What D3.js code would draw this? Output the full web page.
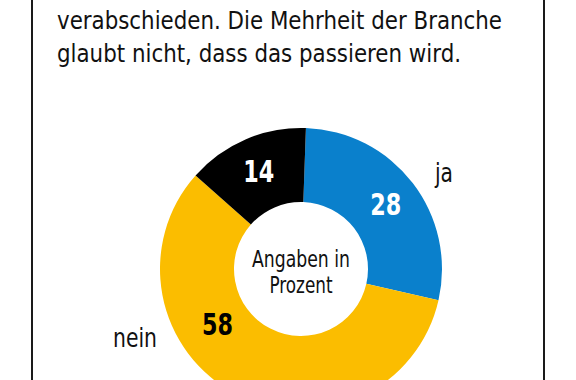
<!DOCTYPE html>
<html>
<head>
<meta charset="utf-8">
<script src="https://cdn.jsdelivr.net/npm/d3@7"></script>
<style>
  html, body { margin: 0; padding: 0; background: #fff; }
  svg { display: block; font-family: "Liberation Sans Narrow", "DejaVu Sans Condensed", "Roboto", sans-serif; }
</style>
</head>
<body>
<svg id="chart"></svg>
<script>
const categories = ["ja", "nein", "weiß nicht"];
const values = [28, 58, 14];
const colors = ["#0a80cc", "#fbbd00", "#000000"];
const valueColors = ["#ffffff", "#000000", "#ffffff"];
const introLines = [
  "verabschieden. Die Mehrheit der Branche",
  "glaubt nicht, dass das passieren wird.",
];
const centerLines = ["Angaben in", "Prozent"];

const width = 576;
const height = 380;

const svg = d3.select("#chart").attr("width", width).attr("height", height);

// frame lines left and right
svg
  .selectAll("line.frame")
  .data([32, 544])
  .join("line")
  .attr("class", "frame")
  .attr("x1", (d) => d)
  .attr("x2", (d) => d)
  .attr("y1", 0)
  .attr("y2", height)
  .attr("stroke", "#1a1a1a")
  .attr("stroke-width", 2);

// intro text
const introWidths = [445, 404];
svg
  .selectAll("text.intro")
  .data(introLines)
  .join("text")
  .attr("class", "intro")
  .attr("x", 57)
  .attr("y", (d, i) => 29 + i * 33)
  .attr("font-size", 25)
  .attr("fill", "#111")
  .attr("textLength", (d, i) => introWidths[i])
  .attr("lengthAdjust", "spacingAndGlyphs")
  .text((d) => d);

function createPieChart(cx, cy) {
  const outer = 141;
  const inner = 67;
  const start = (2 * Math.PI) / 180;

  const g = svg.append("g").attr("transform", `translate(${cx},${cy})`);

  const pie = d3
    .pie()
    .value((d) => d.value)
    .sort(null)
    .startAngle(start)
    .endAngle(start + 2 * Math.PI);
  const arc = d3.arc().outerRadius(outer).innerRadius(inner);
  const cscale = d3.scaleOrdinal().domain(categories).range(colors);
  const tscale = d3.scaleOrdinal().domain(categories).range(valueColors);

  function update(data) {
    const pied = pie(data);

    g.selectAll("path")
      .data(pied, (d) => d.data.key)
      .join("path")
      .attr("d", arc)
      .style("fill", (d) => cscale(d.data.key));

    // value labels, the big yellow one sits lower left
    const labelArc = d3.arc().outerRadius(107).innerRadius(107);
    const labelPos = (d) => {
      if (d.data.key === "nein") {
        const a = (236.5 * Math.PI) / 180;
        return [Math.sin(a) * 100, -Math.cos(a) * 100];
      }
      return labelArc.centroid(d);
    };

    g.selectAll("text.value")
      .data(pied, (d) => d.data.key)
      .join("text")
      .attr("class", "value")
      .attr("x", (d) => labelPos(d)[0])
      .attr("y", (d) => labelPos(d)[1] + 11)
      .attr("text-anchor", "middle")
      .attr("font-size", 31)
      .attr("font-weight", "bold")
      .attr("textLength", 31)
      .attr("lengthAdjust", "spacingAndGlyphs")
      .style("fill", (d) => tscale(d.data.key))
      .text((d) => d.data.value);

    g.selectAll("text.center")
      .data(centerLines)
      .join("text")
      .attr("class", "center")
      .attr("x", 0)
      .attr("y", (d, i) => -2 + i * 26)
      .attr("text-anchor", "middle")
      .attr("font-size", 23)
      .attr("fill", "#111")
      .attr("textLength", (d, i) => [98, 63][i])
      .attr("lengthAdjust", "spacingAndGlyphs")
      .text((d) => d);

    // category labels outside the ring
    const outside = { ja: [143, -87, 18], nein: [-166, 78, 44] };
    g.selectAll("text.cat")
      .data(categories.filter((k) => outside[k]))
      .join("text")
      .attr("class", "cat")
      .attr("x", (d) => outside[d][0])
      .attr("y", (d) => outside[d][1])
      .attr("text-anchor", "middle")
      .attr("font-size", 27)
      .attr("fill", "#111")
      .attr("textLength", (d) => outside[d][2])
      .attr("lengthAdjust", "spacingAndGlyphs")
      .text((d) => d);
  }

  return update;
}

const donut = createPieChart(301, 269);
donut(categories.map((key, i) => ({ key, value: values[i] })));
</script>
</body>
</html>
